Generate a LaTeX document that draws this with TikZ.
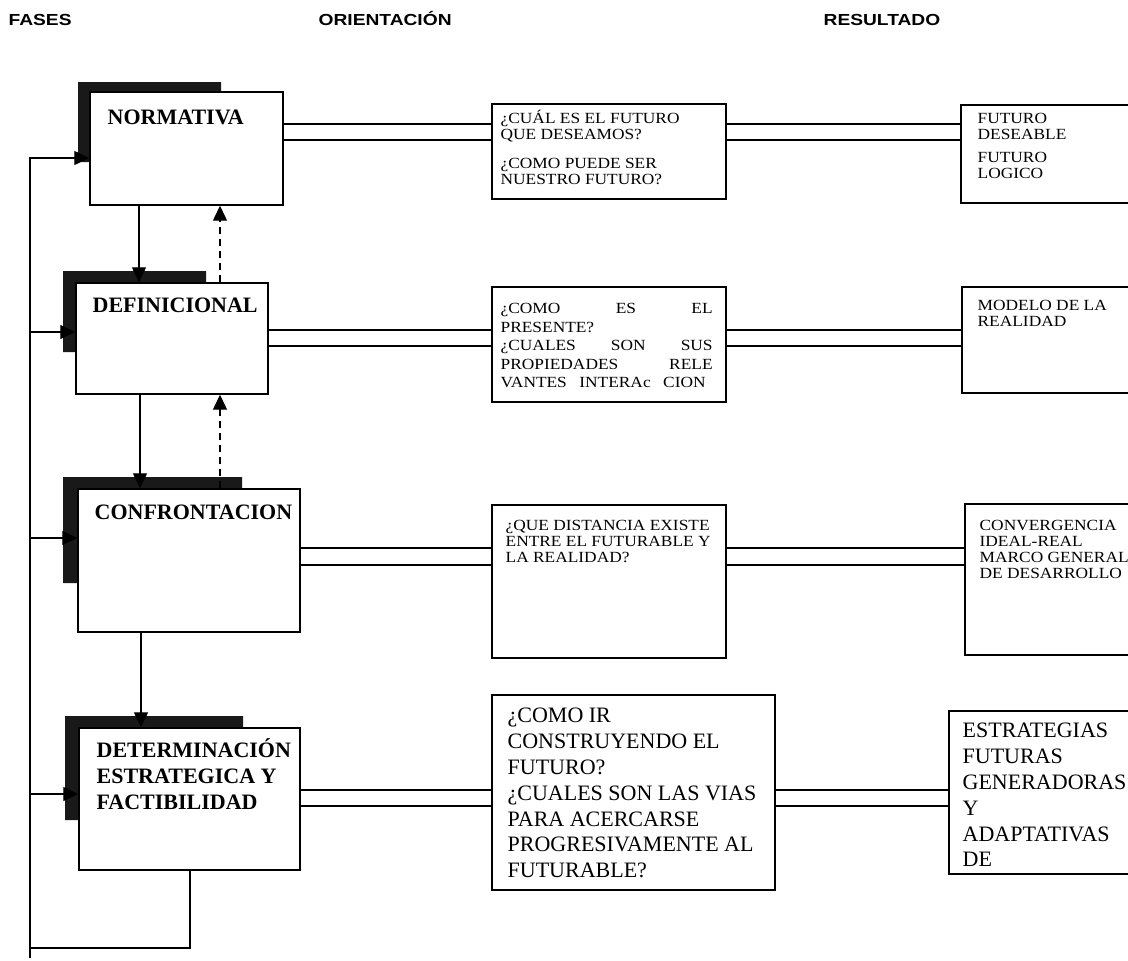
\documentclass[tikz,border=0pt]{standalone}
\usepackage{fontspec}
\setmainfont{Liberation Serif}
\newfontfamily\qfont[FakeStretch=1.12]{Liberation Serif}
\newfontfamily\hfont[FakeStretch=1.2]{Liberation Sans}
\usetikzlibrary{arrows.meta}

\begin{document}
\begin{tikzpicture}[x=1pt,y=-1pt,
  line width=1.3pt,
  boxline/.style={draw=black, line width=1.4pt, fill=white, inner sep=0pt, rectangle},
  shade/.style={fill=black!90},
  arr/.style={-{Triangle[length=15pt,width=14pt]}, line width=1.3pt},
  dbl/.style={line width=1.1pt},
  txt/.style={inner sep=0pt, anchor=north west, align=left},
  title/.style={inner sep=0pt, font=\bfseries\fontsize{22}{26}\selectfont},
  small/.style={font=\qfont\fontsize{15.5}{16}\selectfont},
  large/.style={font=\rmfamily\fontsize{22}{25.8}\selectfont},
  head/.style={inner sep=0pt, anchor=base west, font=\hfont\bfseries\fontsize{16}{18}\selectfont}
]
\useasboundingbox (0,0) rectangle (1128,961);
\clip (0,0) rectangle (1128,961);
\fill[white] (0,0) rectangle (1128,961);

% column headings
\node[head] (hfases) at (8,25.8) {FASES};
\node[head] (horient) at (318,25.8) {ORIENTACIÓN};
\node[head] (hresult) at (823,25.8) {RESULTADO};

% shadows behind the phase boxes
\fill[shade] (78,82) -- (221,82) -- (221,92) -- (90,92) -- (90,162) -- (78,162) -- cycle;
\fill[shade] (63,271) -- (206,271) -- (206,283) -- (76,283) -- (76,352) -- (63,352) -- cycle;
\fill[shade] (63,477) -- (242,477) -- (242,489) -- (78,489) -- (78,583) -- (63,583) -- cycle;
\fill[shade] (65,716) -- (243,716) -- (243,728) -- (79,728) -- (79,820) -- (65,820) -- cycle;

% phase boxes
\node[boxline, minimum width=193pt, minimum height=113pt] (p1) at (186.5,148.5) {};
\node[boxline, minimum width=192pt, minimum height=111pt] (p2) at (172,338.5) {};
\node[boxline, minimum width=222pt, minimum height=143pt] (p3) at (189,560.5) {};
\node[boxline, minimum width=221pt, minimum height=142pt] (p4) at (189.5,799) {};

% question boxes
\node[boxline, minimum width=234pt, minimum height=95pt] (m1) at (609,151.5) {};
\node[boxline, minimum width=234pt, minimum height=115pt] (m2) at (609,344.5) {};
\node[boxline, minimum width=234pt, minimum height=153pt] (m3) at (609,581.5) {};
\node[boxline, minimum width=283pt, minimum height=195pt] (m4) at (633.5,792.5) {};

% result boxes
\node[boxline, minimum width=179pt, minimum height=98pt] (r1) at (1050.5,154) {};
\node[boxline, minimum width=178pt, minimum height=106pt] (r2) at (1051,340) {};
\node[boxline, minimum width=175pt, minimum height=151pt] (r3) at (1052.5,579.5) {};
\node[boxline, minimum width=191pt, minimum height=163pt] (r4) at (1044.5,792.5) {};

% phase titles
\node[title, anchor=base west] (p1t) at (107,124.3) {NORMATIVA};
\node[title, anchor=base west] (p2t) at (92,312.3) {DEFINICIONAL};
\node[title, anchor=base west] (p3t) at (94,519.3) {CONFRONTACION};
\node[title, txt] (p4t) at (96,734.7) {\rule{0pt}{22pt}DETERMINACIÓN\\ESTRATEGICA Y\\FACTIBILIDAD};

% question texts
\node[txt, small] (m1t) at (500,107.6) {\rule{0pt}{15pt}¿CUÁL ES EL FUTURO\\QUE DESEAMOS?\\[13pt]¿COMO PUEDE SER\\NUESTRO FUTURO?};
\node[txt, font=\qfont\fontsize{15.5}{18.5}\selectfont] (m2t) at (500,298.1) {\rule{0pt}{15pt}\makebox[212pt][s]{¿COMO ES EL}\\PRESENTE?\\\makebox[212pt][s]{¿CUALES SON SUS}\\\makebox[212pt][s]{PROPIEDADES RELE}\\\makebox[205pt][s]{VANTES INTERAc CION}};
\node[txt, font=\qfont\fontsize{15.5}{16}\selectfont] (m3t) at (505,515.1) {\rule{0pt}{15pt}¿QUE DISTANCIA EXISTE\\ENTRE EL FUTURABLE Y\\LA REALIDAD?};
\node[txt, large] (m4t) at (507,700.3) {\rule{0pt}{22pt}¿COMO IR\\CONSTRUYENDO EL\\FUTURO?\\¿CUALES SON LAS VIAS\\PARA ACERCARSE\\PROGRESIVAMENTE AL\\FUTURABLE?};

% result texts
\node[txt, small] (r1t) at (977,107.6) {\rule{0pt}{15pt}FUTURO\\DESEABLE\\[7pt]FUTURO\\LOGICO};
\node[txt, small] (r2t) at (977,295.1) {\rule{0pt}{15pt}MODELO DE LA\\REALIDAD};
\node[txt, font=\qfont\fontsize{15.5}{16}\selectfont] (r3t) at (979,515.1) {\rule{0pt}{15pt}CONVERGENCIA\\IDEAL-REAL\\MARCO GENERAL\\DE DESARROLLO};
\node[txt, large] (r4t) at (962,715.3) {\rule{0pt}{22pt}ESTRATEGIAS\\FUTURAS\\GENERADORAS\\Y\\ADAPTATIVAS\\DE};

% double links phase -> question -> result
\draw[dbl] (p1.east |- 0,124) -- (m1.west |- 0,124);
\draw[dbl] (p1.east |- 0,140) -- (m1.west |- 0,140);
\draw[dbl] (m1.east |- 0,124) -- (r1.west |- 0,124);
\draw[dbl] (m1.east |- 0,140) -- (r1.west |- 0,140);

\draw[dbl] (p2.east |- 0,330) -- (m2.west |- 0,330);
\draw[dbl] (p2.east |- 0,346) -- (m2.west |- 0,346);
\draw[dbl] (m2.east |- 0,330) -- (r2.west |- 0,330);
\draw[dbl] (m2.east |- 0,346) -- (r2.west |- 0,346);

\draw[dbl] (p3.east |- 0,548) -- (m3.west |- 0,548);
\draw[dbl] (p3.east |- 0,565) -- (m3.west |- 0,565);
\draw[dbl] (m3.east |- 0,548) -- (r3.west |- 0,548);
\draw[dbl] (m3.east |- 0,565) -- (r3.west |- 0,565);

\draw[dbl] (p4.east |- 0,790) -- (m4.west |- 0,790);
\draw[dbl] (p4.east |- 0,806) -- (m4.west |- 0,806);
\draw[dbl] (m4.east |- 0,790) -- (r4.west |- 0,790);
\draw[dbl] (m4.east |- 0,806) -- (r4.west |- 0,806);

% downward flow between phases
\draw[arr] (p1.south -| 139,0) -- (p2.north -| 139,0);
\draw[arr] (p2.south -| 140,0) -- (p3.north -| 140,0);
\draw[arr] (p3.south -| 141,0) -- (p4.north -| 141,0);

% dashed feedback upwards
\draw[arr, dash pattern=on 7pt off 5pt] (p2.north -| 220,0) -- (p1.south -| 220,0);
\draw[arr, dash pattern=on 7pt off 5pt] (p3.north -| 220,0) -- (p2.south -| 220,0);

% return loop along the left side
\coordinate (busTop) at (30,158);
\coordinate (busBot) at (30,958);
\coordinate (loopR) at (190,948);
\draw (p4.south -| loopR) -- (loopR) -- (busBot |- loopR);
\draw[arr] (busBot) -- (busTop) -- (p1.west |- busTop);
\draw[arr] (busBot |- 0,332) -- (p2.west |- 0,332);
\draw[arr] (busBot |- 0,538) -- (p3.west |- 0,538);
\draw[arr] (busBot |- 0,794) -- (p4.west |- 0,794);
\end{tikzpicture}
\end{document}
